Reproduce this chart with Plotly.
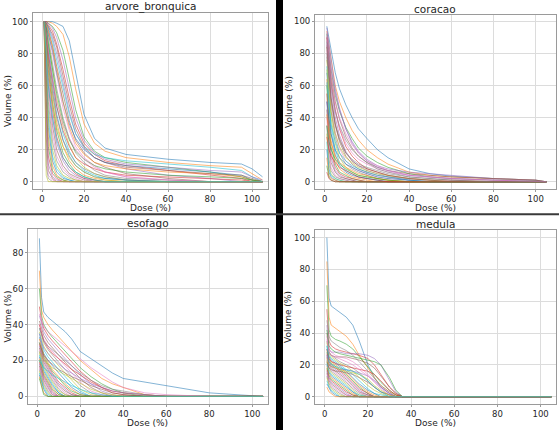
"""Cumulative DVH curves for four organs at risk, 2x2 grid."""

import plotly.graph_objects as go

# tab10 cycle, drawn translucent
CURVE_COLORS = [
    "#1f77b4", "#ff7f0e", "#2ca02c", "#d62728", "#9467bd",
    "#8c564b", "#e377c2", "#7f7f7f", "#bcbd22", "#17becf",
]
CURVE_ALPHA = 0.55
FONT = "DejaVu Sans"
TEXT_COLOR = "#262626"
FRAME_COLOR = "#9a9a9a"
GRID_COLOR = "#dcdcdc"

# --- arvore_bronquica: dose (%) grid and volume (%) per patient ---
AB_DOSE = [1, 2, 3, 5, 7, 10, 13, 16, 20, 25, 30, 40, 60, 80, 95, 100, 105]
AB_CURVES = [
    [100, 100, 100, 100, 99, 97, 88, 68, 42, 27, 21, 17, 14, 12, 11, 8, 3],
    [100, 100, 100, 99, 97, 92, 78, 58, 36, 24, 19, 15, 12, 10, 9, 5, 1],
    [100, 100, 99, 97, 93, 82, 64, 45, 28, 19, 15, 12, 9, 6, 3, 1, 0],
    [100, 100, 98, 94, 86, 70, 52, 36, 24, 17, 13, 10, 7, 4, 2, 0, 0],
    [100, 99, 97, 90, 80, 62, 44, 30, 21, 15, 12, 8, 4, 2, 0, 0, 0],
    [100, 99, 95, 85, 72, 54, 38, 26, 18, 12, 9, 5, 2, 0, 0, 0, 0],
    [100, 98, 93, 80, 65, 46, 32, 22, 15, 10, 6, 3, 1, 0, 0, 0, 0],
    [100, 98, 90, 74, 58, 40, 27, 18, 12, 7, 4, 2, 1, 0, 0, 0, 0],
    [100, 97, 88, 70, 52, 35, 23, 15, 9, 5, 3, 1, 0, 0, 0, 0, 0],
    [100, 96, 85, 65, 47, 30, 19, 12, 7, 4, 2, 1, 0, 0, 0, 0, 0],
    [100, 95, 82, 60, 42, 26, 16, 10, 6, 3, 2, 1, 0, 0, 0, 0, 0],
    [100, 94, 78, 55, 37, 22, 13, 8, 4, 2, 1, 0, 0, 0, 0, 0, 0],
    [100, 92, 74, 50, 32, 18, 11, 6, 3, 1, 0, 0, 0, 0, 0, 0, 0],
    [100, 90, 70, 45, 28, 15, 9, 5, 2, 1, 0, 0, 0, 0, 0, 0, 0],
    [100, 88, 65, 40, 24, 13, 7, 4, 2, 0, 0, 0, 0, 0, 0, 0, 0],
    [100, 86, 60, 35, 20, 10, 5, 3, 1, 0, 0, 0, 0, 0, 0, 0, 0],
    [100, 83, 55, 30, 16, 8, 4, 2, 0, 0, 0, 0, 0, 0, 0, 0, 0],
    [100, 80, 50, 25, 13, 6, 3, 1, 0, 0, 0, 0, 0, 0, 0, 0, 0],
    [100, 76, 45, 20, 10, 4, 2, 1, 0, 0, 0, 0, 0, 0, 0, 0, 0],
    [100, 72, 40, 16, 8, 3, 1, 0, 0, 0, 0, 0, 0, 0, 0, 0, 0],
    [100, 67, 34, 13, 6, 2, 1, 0, 0, 0, 0, 0, 0, 0, 0, 0, 0],
    [100, 60, 28, 10, 4, 1, 0, 0, 0, 0, 0, 0, 0, 0, 0, 0, 0],
    [100, 52, 22, 7, 3, 1, 0, 0, 0, 0, 0, 0, 0, 0, 0, 0, 0],
    [100, 45, 16, 5, 2, 0, 0, 0, 0, 0, 0, 0, 0, 0, 0, 0, 0],
    [100, 36, 11, 3, 1, 0, 0, 0, 0, 0, 0, 0, 0, 0, 0, 0, 0],
    [100, 28, 7, 2, 0, 0, 0, 0, 0, 0, 0, 0, 0, 0, 0, 0, 0],
    [100, 18, 4, 1, 0, 0, 0, 0, 0, 0, 0, 0, 0, 0, 0, 0, 0],
    [100, 10, 2, 0, 0, 0, 0, 0, 0, 0, 0, 0, 0, 0, 0, 0, 0],
    [100, 4, 0, 0, 0, 0, 0, 0, 0, 0, 0, 0, 0, 0, 0, 0, 0],
    [100, 99, 96, 88, 76, 58, 42, 30, 22, 17, 15, 13, 11, 9, 7, 3, 0],
    [100, 97, 92, 82, 68, 50, 36, 27, 20, 15, 12, 10, 8, 6, 4, 1, 0],
    [100, 98, 94, 84, 70, 50, 34, 24, 17, 12, 10, 8, 6, 5, 3, 1, 0],
    [100, 95, 86, 70, 55, 38, 26, 19, 14, 10, 8, 6, 4, 3, 2, 1, 0],
    [100, 92, 80, 62, 47, 32, 22, 15, 11, 8, 6, 4, 3, 2, 1, 0, 0],
    [100, 100, 99, 96, 90, 76, 58, 40, 26, 18, 14, 11, 9, 7, 6, 3, 1],
    [100, 99, 97, 92, 84, 66, 48, 33, 22, 15, 12, 9, 7, 5, 4, 2, 0],
    [100, 93, 82, 64, 50, 36, 27, 20, 14, 9, 6, 3, 1, 0, 0, 0, 0],
    [100, 90, 76, 56, 40, 26, 18, 12, 8, 5, 3, 1, 0, 0, 0, 0, 0],
    [100, 85, 68, 48, 34, 22, 15, 10, 6, 3, 1, 0, 0, 0, 0, 0, 0],
    [100, 78, 60, 40, 26, 15, 9, 6, 3, 1, 0, 0, 0, 0, 0, 0, 0],
]

# --- coracao ---
CO_DOSE = [1, 2, 3, 5, 7, 10, 13, 16, 20, 25, 30, 40, 50, 60, 80, 100, 105]
CO_CURVES = [
    [97, 90, 82, 68, 58, 48, 40, 33, 27, 20, 15, 8, 5, 3.5, 2, 1, 0],
    [94, 86, 76, 60, 50, 40, 32, 26, 20, 15, 11, 6, 4, 3, 2, 1, 0],
    [92, 82, 70, 54, 44, 34, 27, 21, 16, 12, 9, 5, 3, 2, 1, 0.5, 0],
    [90, 76, 63, 45, 33, 22, 16, 12, 8, 6, 4, 2, 1, 1, 0, 0, 0],
    [88, 72, 58, 40, 29, 19, 13, 10, 7, 5, 3, 2, 1, 0, 0, 0, 0],
    [85, 68, 53, 36, 25, 16, 11, 8, 6, 4, 3, 1, 0, 0, 0, 0, 0],
    [82, 63, 48, 31, 21, 13, 9, 7, 5, 3, 2, 1, 0, 0, 0, 0, 0],
    [80, 60, 44, 28, 18, 11, 8, 6, 4, 2, 1, 0, 0, 0, 0, 0, 0],
    [76, 55, 40, 24, 15, 9, 6, 4, 3, 2, 1, 0, 0, 0, 0, 0, 0],
    [72, 50, 35, 20, 12, 7, 5, 3, 2, 1, 0, 0, 0, 0, 0, 0, 0],
    [68, 45, 30, 17, 10, 6, 4, 3, 2, 1, 0, 0, 0, 0, 0, 0, 0],
    [64, 40, 26, 14, 8, 5, 3, 2, 1, 0, 0, 0, 0, 0, 0, 0, 0],
    [60, 36, 22, 11, 6, 4, 2, 1, 0, 0, 0, 0, 0, 0, 0, 0, 0],
    [55, 31, 18, 9, 5, 3, 2, 1, 0, 0, 0, 0, 0, 0, 0, 0, 0],
    [50, 27, 15, 7, 4, 2, 1, 0, 0, 0, 0, 0, 0, 0, 0, 0, 0],
    [45, 22, 12, 6, 3, 2, 1, 0, 0, 0, 0, 0, 0, 0, 0, 0, 0],
    [40, 18, 9, 4, 2, 1, 0, 0, 0, 0, 0, 0, 0, 0, 0, 0, 0],
    [35, 14, 7, 3, 2, 1, 0, 0, 0, 0, 0, 0, 0, 0, 0, 0, 0],
    [30, 11, 5, 2, 1, 0, 0, 0, 0, 0, 0, 0, 0, 0, 0, 0, 0],
    [25, 8, 4, 2, 1, 0, 0, 0, 0, 0, 0, 0, 0, 0, 0, 0, 0],
    [20, 6, 3, 1, 0, 0, 0, 0, 0, 0, 0, 0, 0, 0, 0, 0, 0],
    [15, 4, 2, 1, 0, 0, 0, 0, 0, 0, 0, 0, 0, 0, 0, 0, 0],
    [10, 3, 1, 0, 0, 0, 0, 0, 0, 0, 0, 0, 0, 0, 0, 0, 0],
    [6, 2, 1, 0, 0, 0, 0, 0, 0, 0, 0, 0, 0, 0, 0, 0, 0],
    [93, 82, 72, 56, 45, 33, 25, 19, 14, 10, 8, 6, 5, 4, 2, 1, 0],
    [90, 78, 66, 50, 39, 28, 21, 16, 12, 9, 7, 5, 4, 3, 2, 1, 0],
    [86, 72, 60, 44, 34, 24, 18, 14, 11, 8, 6, 4, 3, 2, 1, 0, 0],
    [78, 62, 50, 35, 26, 18, 14, 11, 9, 7, 5, 3, 2, 1, 0, 0, 0],
    [70, 55, 44, 30, 22, 15, 12, 9, 7, 5, 4, 2, 1, 0, 0, 0, 0],
    [62, 46, 36, 25, 18, 13, 10, 8, 6, 4, 3, 1, 0, 0, 0, 0, 0],
    [50, 38, 30, 20, 15, 11, 9, 7, 5, 3, 2, 1, 0, 0, 0, 0, 0],
    [42, 30, 24, 16, 12, 9, 7, 5, 4, 2, 1, 0, 0, 0, 0, 0, 0],
    [35, 25, 20, 14, 11, 8, 6, 4, 3, 2, 1, 0, 0, 0, 0, 0, 0],
    [28, 20, 16, 12, 9, 7, 5, 3, 2, 1, 0, 0, 0, 0, 0, 0, 0],
    [96, 86, 75, 58, 46, 33, 24, 18, 13, 9, 7, 4, 3, 2, 1, 0, 0],
    [84, 66, 52, 36, 27, 18, 13, 10, 8, 6, 4, 2, 1, 0, 0, 0, 0],
    [91, 80, 68, 50, 40, 30, 23, 18, 13, 10, 7, 4, 3, 2, 1, 0, 0],
    [87, 74, 61, 44, 35, 26, 20, 16, 12, 8, 6, 3, 2, 1, 0, 0, 0],
]

# --- esofago ---
ES_DOSE = [1, 2, 3, 5, 7, 10, 13, 16, 20, 25, 30, 35, 40, 50, 60, 80, 105]
ES_CURVES = [
    [88, 55, 47, 44, 42, 39, 36, 32, 25, 21, 17, 13, 10, 8, 6, 2, 0],
    [70, 48, 44, 40, 37, 33, 29, 25, 20, 15, 10, 7, 5, 1, 0, 0, 0],
    [60, 45, 40, 36, 33, 29, 25, 21, 16, 11, 7, 4, 2, 0, 0, 0, 0],
    [50, 42, 38, 34, 31, 27, 23, 19, 14, 9, 5, 2, 1, 0, 0, 0, 0],
    [45, 40, 36, 32, 29, 25, 21, 17, 12, 7, 3, 1, 0, 0, 0, 0, 0],
    [42, 38, 34, 30, 27, 23, 19, 15, 10, 5, 2, 0, 0, 0, 0, 0, 0],
    [40, 36, 32, 28, 25, 21, 17, 13, 8, 3, 1, 0, 0, 0, 0, 0, 0],
    [38, 34, 30, 26, 23, 19, 15, 11, 6, 2, 0, 0, 0, 0, 0, 0, 0],
    [36, 32, 28, 24, 21, 17, 13, 9, 4, 1, 0, 0, 0, 0, 0, 0, 0],
    [35, 30, 26, 22, 19, 15, 11, 7, 3, 0, 0, 0, 0, 0, 0, 0, 0],
    [33, 28, 24, 20, 17, 13, 9, 5, 2, 0, 0, 0, 0, 0, 0, 0, 0],
    [32, 27, 23, 19, 15, 11, 7, 4, 1, 0, 0, 0, 0, 0, 0, 0, 0],
    [30, 26, 22, 18, 14, 10, 6, 3, 1, 0, 0, 0, 0, 0, 0, 0, 0],
    [29, 25, 21, 17, 13, 8, 5, 2, 0, 0, 0, 0, 0, 0, 0, 0, 0],
    [28, 24, 20, 16, 12, 7, 4, 1, 0, 0, 0, 0, 0, 0, 0, 0, 0],
    [27, 23, 19, 15, 11, 6, 3, 1, 0, 0, 0, 0, 0, 0, 0, 0, 0],
    [26, 22, 18, 14, 10, 5, 2, 0, 0, 0, 0, 0, 0, 0, 0, 0, 0],
    [25, 21, 17, 13, 9, 4, 1, 0, 0, 0, 0, 0, 0, 0, 0, 0, 0],
    [24, 20, 16, 12, 8, 3, 1, 0, 0, 0, 0, 0, 0, 0, 0, 0, 0],
    [23, 19, 15, 11, 7, 2, 0, 0, 0, 0, 0, 0, 0, 0, 0, 0, 0],
    [22, 18, 14, 10, 6, 2, 0, 0, 0, 0, 0, 0, 0, 0, 0, 0, 0],
    [21, 17, 13, 9, 5, 1, 0, 0, 0, 0, 0, 0, 0, 0, 0, 0, 0],
    [20, 16, 12, 8, 4, 1, 0, 0, 0, 0, 0, 0, 0, 0, 0, 0, 0],
    [19, 15, 11, 7, 3, 0, 0, 0, 0, 0, 0, 0, 0, 0, 0, 0, 0],
    [18, 14, 10, 6, 2, 0, 0, 0, 0, 0, 0, 0, 0, 0, 0, 0, 0],
    [17, 13, 9, 5, 1, 0, 0, 0, 0, 0, 0, 0, 0, 0, 0, 0, 0],
    [16, 12, 8, 4, 1, 0, 0, 0, 0, 0, 0, 0, 0, 0, 0, 0, 0],
    [15, 11, 7, 3, 0, 0, 0, 0, 0, 0, 0, 0, 0, 0, 0, 0, 0],
    [14, 10, 6, 2, 0, 0, 0, 0, 0, 0, 0, 0, 0, 0, 0, 0, 0],
    [13, 9, 5, 1, 0, 0, 0, 0, 0, 0, 0, 0, 0, 0, 0, 0, 0],
    [12, 8, 4, 0, 0, 0, 0, 0, 0, 0, 0, 0, 0, 0, 0, 0, 0],
    [11, 6, 2, 0, 0, 0, 0, 0, 0, 0, 0, 0, 0, 0, 0, 0, 0],
    [10, 5, 1, 0, 0, 0, 0, 0, 0, 0, 0, 0, 0, 0, 0, 0, 0],
    [40, 35, 31, 27, 24, 21, 18, 15, 12, 8, 5, 3, 2, 1, 0, 0, 0],
    [35, 30, 27, 24, 21, 18, 15, 13, 10, 7, 5, 3, 2, 1, 0, 0, 0],
    [30, 26, 23, 20, 18, 15, 13, 11, 9, 6, 4, 2, 1, 0, 0, 0, 0],
    [46, 42, 39, 36, 34, 31, 28, 25, 21, 16, 12, 8, 5, 2, 1, 0, 0],
    [38, 34, 31, 28, 26, 23, 20, 17, 13, 9, 6, 4, 3, 1, 0, 0, 0],
    [25, 22, 20, 18, 16, 14, 12, 10, 7, 4, 2, 1, 0, 0, 0, 0, 0],
    [20, 18, 16, 14, 12, 10, 8, 6, 4, 2, 1, 0, 0, 0, 0, 0, 0],
]

# --- medula ---
ME_DOSE = [1, 2, 3, 5, 7, 10, 13, 16, 20, 23, 26, 30, 33, 36, 40, 60, 105]
ME_CURVES = [
    [100, 62, 57, 55, 53, 50, 45, 35, 20, 12, 6, 2, 0, 0, 0, 0, 0],
    [85, 50, 45, 43, 41, 38, 33, 26, 18, 12, 7, 3, 1, 0, 0, 0, 0],
    [70, 42, 38, 36, 35, 33, 30, 25, 19, 14, 9, 4, 1, 0, 0, 0, 0],
    [55, 35, 32, 30, 29, 28, 27, 26, 24, 20, 14, 6, 2, 0, 0, 0, 0],
    [45, 30, 28, 28, 28, 27, 27, 27, 26, 24, 20, 10, 3, 0, 0, 0, 0],
    [40, 28, 26, 25, 25, 25, 24, 23, 21, 18, 13, 6, 2, 0, 0, 0, 0],
    [38, 30, 28, 26, 25, 24, 22, 19, 14, 10, 6, 2, 0, 0, 0, 0, 0],
    [35, 28, 26, 24, 22, 20, 18, 15, 10, 6, 3, 1, 0, 0, 0, 0, 0],
    [34, 27, 25, 23, 21, 19, 16, 12, 7, 4, 2, 0, 0, 0, 0, 0, 0],
    [32, 26, 24, 22, 20, 17, 14, 10, 5, 2, 1, 0, 0, 0, 0, 0, 0],
    [30, 25, 23, 21, 19, 16, 12, 8, 4, 2, 0, 0, 0, 0, 0, 0, 0],
    [29, 24, 22, 20, 18, 15, 11, 7, 3, 1, 0, 0, 0, 0, 0, 0, 0],
    [28, 23, 21, 19, 17, 14, 10, 6, 2, 0, 0, 0, 0, 0, 0, 0, 0],
    [27, 22, 20, 18, 16, 13, 9, 5, 2, 0, 0, 0, 0, 0, 0, 0, 0],
    [26, 21, 19, 17, 15, 12, 8, 4, 1, 0, 0, 0, 0, 0, 0, 0, 0],
    [25, 20, 18, 16, 14, 11, 7, 3, 1, 0, 0, 0, 0, 0, 0, 0, 0],
    [24, 19, 17, 15, 13, 10, 6, 3, 0, 0, 0, 0, 0, 0, 0, 0, 0],
    [23, 18, 16, 14, 12, 9, 5, 2, 0, 0, 0, 0, 0, 0, 0, 0, 0],
    [22, 17, 15, 13, 11, 8, 4, 1, 0, 0, 0, 0, 0, 0, 0, 0, 0],
    [21, 16, 14, 12, 10, 7, 3, 1, 0, 0, 0, 0, 0, 0, 0, 0, 0],
    [20, 15, 13, 11, 9, 6, 3, 0, 0, 0, 0, 0, 0, 0, 0, 0, 0],
    [19, 14, 12, 10, 8, 5, 2, 0, 0, 0, 0, 0, 0, 0, 0, 0, 0],
    [18, 13, 11, 9, 7, 4, 1, 0, 0, 0, 0, 0, 0, 0, 0, 0, 0],
    [17, 12, 10, 8, 6, 3, 1, 0, 0, 0, 0, 0, 0, 0, 0, 0, 0],
    [16, 11, 9, 7, 5, 2, 0, 0, 0, 0, 0, 0, 0, 0, 0, 0, 0],
    [15, 10, 8, 6, 4, 1, 0, 0, 0, 0, 0, 0, 0, 0, 0, 0, 0],
    [14, 9, 7, 5, 3, 1, 0, 0, 0, 0, 0, 0, 0, 0, 0, 0, 0],
    [13, 8, 6, 4, 2, 0, 0, 0, 0, 0, 0, 0, 0, 0, 0, 0, 0],
    [12, 7, 5, 3, 1, 0, 0, 0, 0, 0, 0, 0, 0, 0, 0, 0, 0],
    [10, 6, 4, 2, 0, 0, 0, 0, 0, 0, 0, 0, 0, 0, 0, 0, 0],
    [8, 5, 3, 1, 0, 0, 0, 0, 0, 0, 0, 0, 0, 0, 0, 0, 0],
    [6, 3, 2, 0, 0, 0, 0, 0, 0, 0, 0, 0, 0, 0, 0, 0, 0],
    [42, 32, 30, 28, 27, 26, 25, 24, 23, 22, 20, 12, 4, 0, 0, 0, 0],
    [30, 24, 22, 21, 20, 19, 18, 17, 16, 14, 10, 4, 1, 0, 0, 0, 0],
    [26, 20, 19, 18, 17, 17, 16, 15, 13, 10, 6, 2, 0, 0, 0, 0, 0],
    [22, 18, 17, 16, 16, 15, 14, 12, 9, 6, 3, 1, 0, 0, 0, 0, 0],
    [36, 28, 26, 25, 24, 22, 20, 17, 13, 9, 5, 1, 0, 0, 0, 0, 0],
    [48, 38, 35, 33, 31, 29, 26, 22, 16, 11, 7, 3, 0, 0, 0, 0, 0],
    [24, 20, 19, 18, 17, 16, 15, 14, 11, 7, 4, 1, 0, 0, 0, 0, 0],
    [32, 22, 20, 19, 18, 17, 16, 14, 10, 6, 3, 0, 0, 0, 0, 0, 0],
]

PANEL_TITLES = ["arvore_bronquica", "coracao", "esofago", "medula"]
PANEL_DOSES = [AB_DOSE, CO_DOSE, ES_DOSE, ME_DOSE]
PANEL_CURVES = [AB_CURVES, CO_CURVES, ES_CURVES, ME_CURVES]
X_TICKS = [0, 20, 40, 60, 80, 100]
Y_TICKS = [0, 20, 40, 60, 80, 100]

# axes placement (paper fractions) and visible ranges, per panel
DOMAINS = [
    dict(x=[0.059, 0.4794], y=[0.5605, 0.9698]),
    dict(x=[0.5635, 0.9946], y=[0.5605, 0.9651]),
    dict(x=[0.0501, 0.4794], y=[0.0605, 0.4674]),
    dict(x=[0.5635, 0.9946], y=[0.0605, 0.4651]),
]
X_RANGES = [[-4.3, 107.6], [-4.6, 109.6], [-4.3, 107.3], [-4.5, 107.1]]
Y_RANGES = [[-4.6, 105.4], [-4.5, 104.0], [-4.2, 93.2], [-4.6, 104.8]]
# pixel offset of the y-axis title from the left frame of each panel
YTITLE_SHIFT = [-25, -26, -21, -27]


def _rgba(hex_color: str, alpha: float) -> str:
    h = hex_color.lstrip("#")
    r, g, b = (int(h[i:i + 2], 16) for i in (0, 2, 4))
    return f"rgba({r},{g},{b},{alpha})"


fig = go.Figure()
layout_axes = {}
annotations = []
label_font = dict(family=FONT, size=9, color=TEXT_COLOR)

for p, (title, dose, curves) in enumerate(zip(PANEL_TITLES, PANEL_DOSES, PANEL_CURVES)):
    suffix = "" if p == 0 else str(p + 1)
    for i, vol in enumerate(curves):
        color = CURVE_COLORS[i % len(CURVE_COLORS)]
        fig.add_trace(go.Scatter(
            x=dose,
            y=vol,
            mode="lines",
            line=dict(color=_rgba(color, CURVE_ALPHA), width=1),
            xaxis="x" + suffix,
            yaxis="y" + suffix,
            showlegend=False,
            hoverinfo="skip",
        ))

    common = dict(
        showgrid=True, gridcolor=GRID_COLOR, gridwidth=0.8,
        zeroline=False, showline=True, mirror=True,
        linecolor=FRAME_COLOR, linewidth=1,
        ticks="outside", ticklen=2, tickcolor=FRAME_COLOR,
        tickfont=dict(family=FONT, size=8.5, color=TEXT_COLOR),
        automargin=False,
    )
    dx, dy = DOMAINS[p]["x"], DOMAINS[p]["y"]
    layout_axes["xaxis" + suffix] = dict(
        common, domain=dx, anchor="y" + suffix,
        range=X_RANGES[p], tickvals=X_TICKS,
    )
    layout_axes["yaxis" + suffix] = dict(
        common, domain=dy, anchor="x" + suffix,
        range=Y_RANGES[p], tickvals=Y_TICKS,
    )

    # panel title, x label, y label
    annotations += [
        dict(text=title, xref="paper", yref="paper",
             x=sum(dx) / 2, y=dy[1], xanchor="center", yanchor="middle",
             yshift=6.5, showarrow=False,
             font=dict(family=FONT, size=10.5, color=TEXT_COLOR)),
        dict(text="Dose (%)", xref="paper", yref="paper",
             x=sum(dx) / 2, y=dy[0], xanchor="center", yanchor="middle",
             yshift=-19.5, showarrow=False, font=label_font),
        dict(text="Volume (%)", xref="paper", yref="paper",
             x=dx[0], y=sum(dy) / 2, xanchor="center", yanchor="middle",
             xshift=YTITLE_SHIFT[p], textangle=-90, showarrow=False, font=label_font),
    ]

# separators between the four panels
shapes = [
    dict(type="rect", xref="paper", yref="paper",
         x0=276 / 559, x1=283 / 559, y0=0, y1=1,
         fillcolor="black", line=dict(width=0), layer="above"),
    dict(type="line", xref="paper", yref="paper",
         x0=0, x1=1, y0=1 - 214.3 / 430, y1=1 - 214.3 / 430,
         line=dict(color="#3a3a3a", width=2), layer="above"),
]

fig.update_layout(
    width=559,
    height=430,
    margin=dict(l=0, r=0, t=0, b=0),
    plot_bgcolor="white",
    paper_bgcolor="white",
    font=dict(family=FONT, size=9, color=TEXT_COLOR),
    annotations=annotations,
    shapes=shapes,
    **layout_axes,
)

# drop the default page margin so the 559x430 figure sits at the window origin
fig.write_html(
    "out.html",
    config={"displayModeBar": False},
    post_script="document.body.style.margin='0';document.body.style.overflow='hidden';",
)
